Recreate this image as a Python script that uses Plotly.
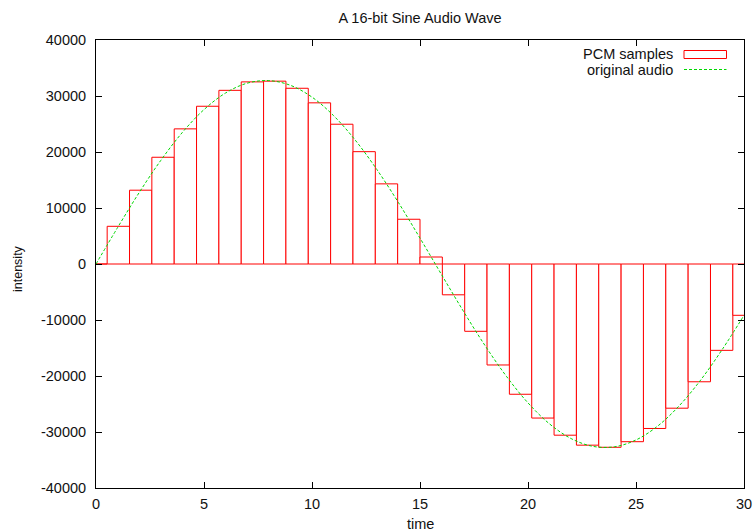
import plotly.graph_objects as go

# PCM sample times and values
sample_time = [0.000, 1.034, 2.069, 3.103, 4.138, 5.172, 6.207, 7.241, 8.276, 9.310,
               10.345, 11.379, 12.414, 13.448, 14.483, 15.517, 16.552, 17.586, 18.621, 19.655,
               20.690, 21.724, 22.759, 23.793, 24.828, 25.862, 26.897, 27.931, 28.966, 30.000]
sample_value = [0, 6730, 13180, 19060, 24130, 28170, 31010, 32520, 32650, 31380,
                28780, 24960, 20060, 14310, 7990, 1250, -5500, -12020, -18030, -23260,
                -27510, -30570, -32350, -32730, -31730, -29370, -25750, -21030, -15420, -9160]
sample_width = 1.0345

# original audio curve
audio_time = list(range(0, 31))
audio_value = [0, 6510, 12760, 18500, 23500, 27570, 30540, 32290, 32750, 31910,
               29800, 26490, 22130, 16890, 10980, 4620, -1910, -8370, -14500, -20050,
               -24800, -28560, -31180, -32560, -32640, -31420, -28950, -25320, -20690, -15220,
               -9160]

x_ticks = [0, 5, 10, 15, 20, 25, 30]
y_ticks = [-40000, -30000, -20000, -10000, 0, 10000, 20000, 30000, 40000]

FONT = "Liberation Sans, Arial, sans-serif"
FS = 14.5
TXT = "#111"
RED = "rgb(255,0,0)"
GREEN = "rgb(0,215,0)"

W, H = 755, 532
L, R, T, B = 96, 11, 40, 44

def px_x(p):
    return (p - L) / (W - L - R)

def px_y(p):
    return (H - B - p) / (H - T - B)

fig = go.Figure()
fig.add_trace(go.Bar(
    x=sample_time, y=sample_value, width=sample_width,
    marker=dict(color="white", line=dict(color=RED, width=1)),
    name="PCM samples", showlegend=False,
))
fig.add_trace(go.Scatter(
    x=audio_time, y=audio_value, mode="lines",
    line=dict(color=GREEN, width=1, dash="3px,2px", shape="spline", smoothing=1.0),
    name="original audio", showlegend=False,
))

# custom gnuplot-style legend (text left of key)
legend_items = ["PCM samples", "original audio"]
fig.add_annotation(xref="paper", yref="paper", x=px_x(675), y=px_y(54), text=legend_items[0],
                   showarrow=False, xanchor="right", yanchor="middle",
                   font=dict(family=FONT, size=FS, color=TXT))
fig.add_annotation(xref="paper", yref="paper", x=px_x(675), y=px_y(69.5), text=legend_items[1],
                   showarrow=False, xanchor="right", yanchor="middle",
                   font=dict(family=FONT, size=FS, color=TXT))
fig.add_shape(type="rect", xref="paper", yref="paper", x0=px_x(684), x1=px_x(726.5),
              y0=px_y(58.5), y1=px_y(50.5),
              line=dict(color=RED, width=1), fillcolor="rgba(0,0,0,0)")
fig.add_shape(type="line", xref="paper", yref="paper", x0=px_x(684), x1=px_x(726.5),
              y0=px_y(69.5), y1=px_y(69.5),
              line=dict(color=GREEN, width=1, dash="3px,2px"))

# axis titles
fig.add_annotation(xref="paper", yref="paper", x=px_x(420), y=px_y(524), text="time",
                   showarrow=False, xanchor="center", yanchor="middle",
                   font=dict(family=FONT, size=FS, color=TXT))
fig.add_annotation(xref="paper", yref="paper", x=px_x(18), y=px_y(269), text="intensity",
                   showarrow=False, xanchor="center", yanchor="middle", textangle=-90,
                   font=dict(family=FONT, size=12.5, color=TXT))

fig.update_layout(
    width=W, height=H,
    margin=dict(l=L, r=R, t=T, b=B, autoexpand=False),
    paper_bgcolor="white", plot_bgcolor="white",
    font=dict(family=FONT, size=FS, color=TXT),
    title=dict(text="A 16-bit Sine Audio Wave", x=420 / W, xanchor="center",
               y=1 - 18 / H, yanchor="middle", font=dict(family=FONT, size=FS, color=TXT)),
    bargap=0,
    showlegend=False,
    hovermode=False,
)
fig.update_xaxes(
    range=[0, 30], tickvals=x_ticks, ticktext=[str(v) for v in x_ticks],
    ticks="inside", ticklen=6, tickwidth=1, tickcolor="black",
    showline=True, linecolor="black", linewidth=1, mirror="allticks",
    showgrid=False, zeroline=False, automargin=False, ticklabelstandoff=3,
    tickfont=dict(family=FONT, size=FS, color=TXT),
)
fig.update_yaxes(
    range=[-40000, 40000], tickvals=y_ticks, ticktext=[str(v) for v in y_ticks],
    ticks="inside", ticklen=6, tickwidth=1, tickcolor="black",
    showline=True, linecolor="black", linewidth=1, mirror="allticks",
    showgrid=False, zeroline=False, automargin=False, ticklabelstandoff=6,
    tickfont=dict(family=FONT, size=FS, color=TXT),
)

fig.write_html("out.html", config={"displayModeBar": False, "staticPlot": True},
               post_script="document.body.style.margin='0';document.body.style.padding='0';")
